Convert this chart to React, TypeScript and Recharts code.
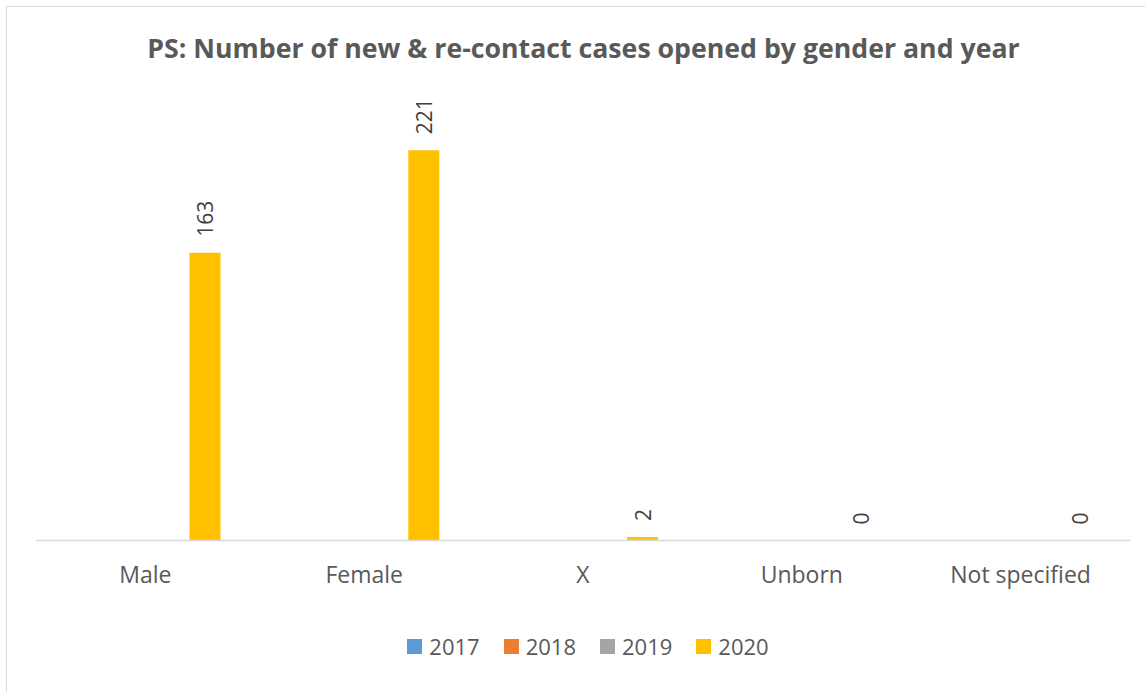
import React from "react";
import { BarChart, Bar, XAxis, YAxis, Legend, LabelList } from "recharts";

const genders = ["Male", "Female", "X", "Unborn", "Not specified"];
const years = ["2017", "2018", "2019", "2020"];
const cases2017: (number | null)[] = [null, null, null, null, null];
const cases2018: (number | null)[] = [null, null, null, null, null];
const cases2019: (number | null)[] = [null, null, null, null, null];
const cases2020: (number | null)[] = [163, 221, 2, 0, 0];

const colors = ["#5B9BD5", "#ED7D31", "#A5A5A5", "#FFC000"];
const FONT = "'Open Sans', sans-serif";

const data = genders.map((g, i) => ({
  gender: g,
  "2017": cases2017[i],
  "2018": cases2018[i],
  "2019": cases2019[i],
  "2020": cases2020[i],
}));

function ValueLabel(props: any) {
  const { x, y, width, value } = props;
  if (value === null || value === undefined) return null;
  const cx = Number(x) + Number(width) / 2;
  const ty = Number(y) - 16;
  return (
    <text
      x={cx}
      y={ty}
      transform={`rotate(-90 ${cx} ${ty})`}
      textAnchor="start"
      dominantBaseline="central"
      fill="#404040"
      fontFamily={FONT}
      fontSize={21}
    >
      {value}
    </text>
  );
}

function YearLegend() {
  return (
    <div
      style={{
        display: "flex",
        justifyContent: "center",
        fontFamily: FONT,
        fontSize: 22,
        color: "#595959",
        lineHeight: "30px",
        paddingLeft: 12,
      }}
    >
      {years.map((y, i) => (
        <div
          key={y}
          style={{ display: "flex", alignItems: "center", marginRight: i < 3 ? 24 : 0 }}
        >
          <span
            style={{
              display: "inline-block",
              width: 15,
              height: 15,
              background: colors[i],
              marginRight: 7,
            }}
          />
          <span>{y}</span>
        </div>
      ))}
    </div>
  );
}

export default function App() {
  return (
    <div
      style={{
        position: "fixed",
        left: 0,
        top: 0,
        width: 1145,
        height: 692,
        overflow: "hidden",
        background: "#fff",
      }}
    >
      <div
        style={{
          position: "absolute",
          left: 6,
          top: 6,
          width: 1160,
          height: 700,
          border: "1px solid #d9d9d9",
          background: "#fff",
        }}
      >
        <div
          style={{
            position: "absolute",
            left: 0,
            top: 22,
            width: 1153,
            textAlign: "center",
            fontFamily: FONT,
            fontWeight: 700,
            fontSize: 26.7,
            color: "#595959",
            whiteSpace: "nowrap",
          }}
        >
          PS: Number of new &amp; re-contact cases opened by gender and year
        </div>
        <BarChart
          width={1150}
          height={690}
          data={data}
          margin={{ top: 92, right: 27, bottom: 116.5, left: 29 }}
          barSize={31}
          barGap={8.5}
        >
          <XAxis
            dataKey="gender"
            height={40}
            axisLine={{ stroke: "#d9d9d9", strokeWidth: 1.5 }}
            tickLine={false}
            tickSize={0}
            tickMargin={26}
            interval={0}
            tick={{ fill: "#595959", fontFamily: FONT, fontSize: 23 }}
          />
          <YAxis hide domain={[0, 250]} />
          <Legend
            layout="horizontal"
            verticalAlign="middle"
            align="center"
            content={() => <YearLegend />}
            wrapperStyle={{ top: 624, left: 0, width: 1150 }}
          />
          {years.map((y, i) => (
            <Bar
              key={y}
              dataKey={y}
              fill={colors[i]}
              minPointSize={y === "2020" ? 0.01 : 0}
              isAnimationActive={false}
            >
              {y === "2020" ? (
                <LabelList dataKey={y} content={(p: any) => <ValueLabel {...p} />} />
              ) : null}
            </Bar>
          ))}
        </BarChart>
      </div>
    </div>
  );
}
